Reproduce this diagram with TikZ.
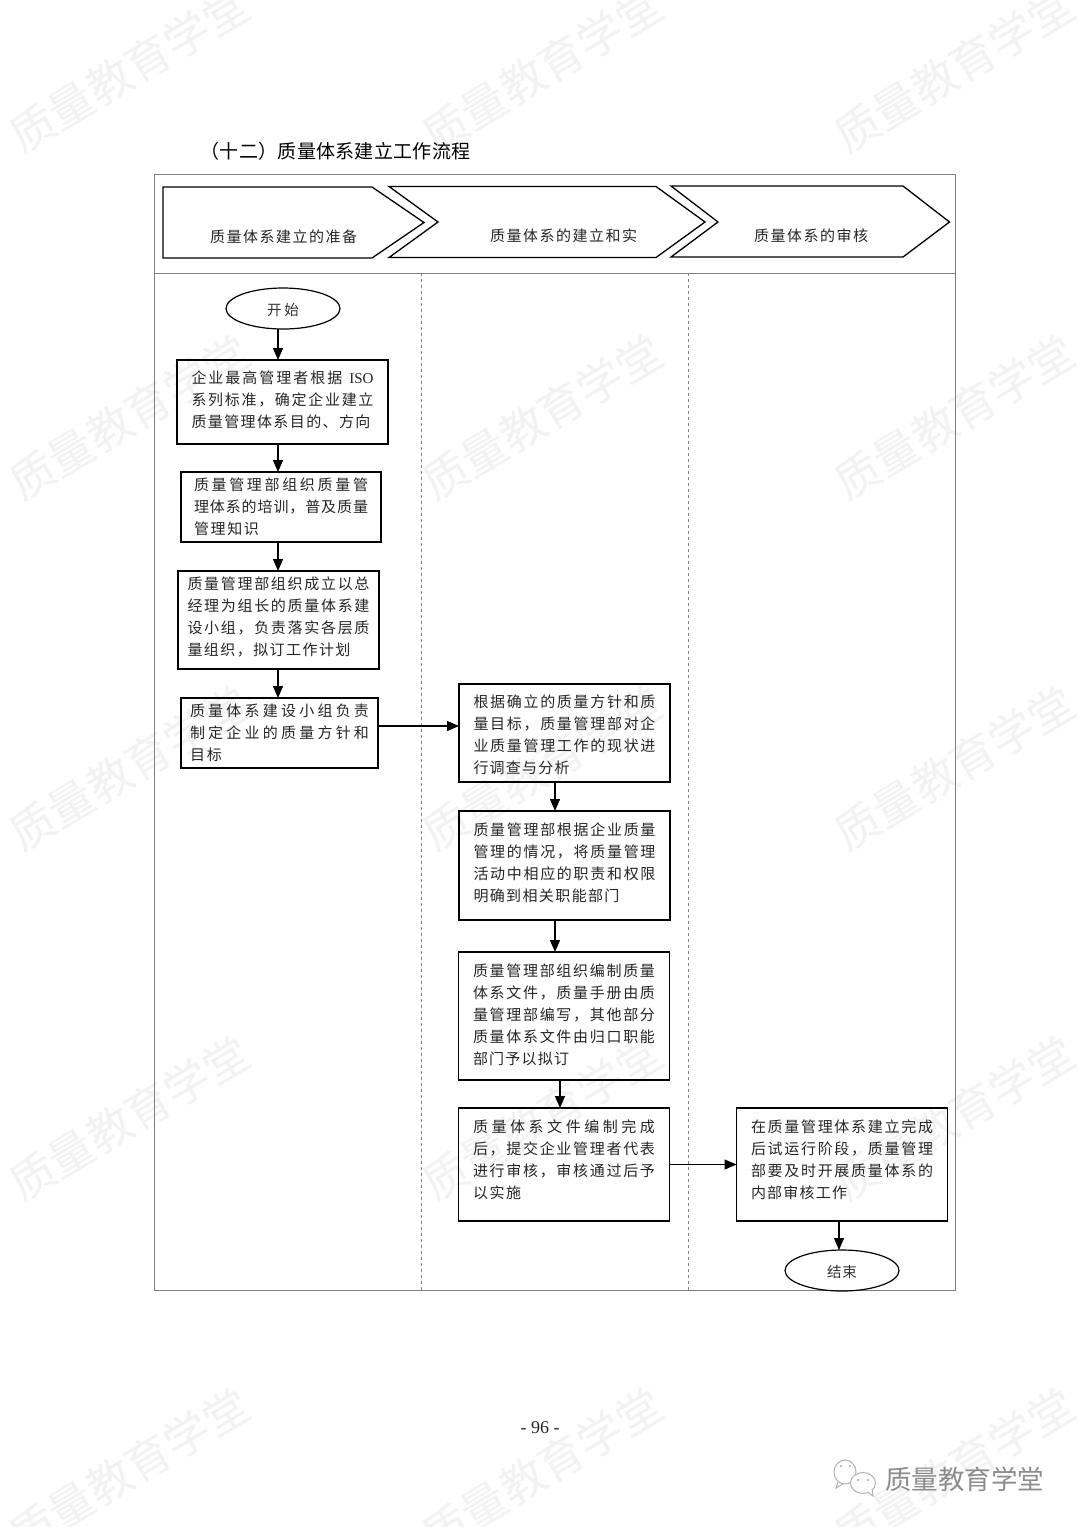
\documentclass[tikz,border=0pt]{standalone}
\usepackage{fontspec}
\setmainfont{Noto Sans CJK SC}
\newfontfamily\latinfont{Liberation Serif}
\usetikzlibrary{arrows.meta,positioning,shapes.geometric}

\def\spreadchars#1{\ifx#1\relax\unskip\else#1\hfil\expandafter\spreadchars\fi}
\newcommand\jl[2][\linewidth]{\makebox[#1][s]{\spreadchars#2\relax}}
\newcommand\pad[1]{\rule[-#1]{0pt}{#1}}
\newcommand\padtop[1]{\rule{0pt}{#1}}
\newcommand\isotext{\ {\latinfont ISO}}

\tikzset{
  flowbox/.style n args={3}{draw,line width=1.3pt,outer sep=0pt,inner sep=0pt,align=left,
    text width=#1,minimum width=#2,minimum height=#3,text=black!85,
    font=\fontsize{15}{22}\selectfont},
  terminal/.style={draw,ellipse,line width=1.2pt,outer sep=0pt,inner sep=0pt,minimum width=114pt,
    minimum height=41pt,text=black!80,font=\fontsize{14.5}{16}\selectfont},
  stage/.style={draw,line width=1.3pt,line join=miter},
  stagetext/.style={text=black!85,font=\fontsize{15}{16}\selectfont,inner sep=0pt},
  frameline/.style={draw=black!50,line width=1pt}
}

\begin{document}
\begin{tikzpicture}[x=1pt,y=-1pt,>={Stealth[length=12pt,width=10pt,inset=0pt]}]
   \useasboundingbox (0,0) rectangle (1080,1527);
   \fill[white] (0,0) rectangle (1080,1527);

   \foreach \wx in {129,542,954}
     \foreach \wy in {70,417,768,1118,1470}
       \node[rotate=31,text=black!5,font=\fontsize{45}{46}\selectfont] (wm\wx\wy) at (\wx,\wy) {质量教育学堂};

   \node[text=black,font=\fontsize{19}{20}\selectfont,inner sep=0pt] (title) at (335.5,151) {\jl[270pt]{（十二）质量体系建立工作流程}};

   \draw[frameline] (154,174) rectangle (955,1290);
   \draw[frameline] (154,273) -- (955,273);
   \draw[frameline,dashed,line width=.8pt] (421,273) -- (421,1290);
   \draw[frameline,dashed,line width=.8pt] (688,273) -- (688,1290);

   \draw[stage] (163,187) -- (372,187) -- (424,222.5) -- (372,258) -- (163,258) -- cycle;
   \draw[stage] (389,186.5) -- (656,186.5) -- (705,222) -- (656,257.5) -- (389,257.5) -- (438,222) -- cycle;
   \draw[stage] (671,186) -- (903,186) -- (949.5,222) -- (903,257) -- (671,257) -- (718,222) -- cycle;
   \node[stagetext] (prep)  at (283.5,237) {\jl[147pt]{质量体系建立的准备}};
   \node[stagetext] (build) at (563.5,236) {\jl[147pt]{质量体系的建立和实}};
   \node[stagetext] (audit) at (811,236)   {\jl[114pt]{质量体系的审核}};

   \coordinate (col1) at (278,0);
   \coordinate (col2) at (555,0);
   \coordinate (col3) at (560,0);
   \coordinate (col4) at (839,0);
   \coordinate (row1) at (0,726);

   \node[terminal]                    (start) at (283,308.5) {\raisebox{-7pt}[0pt][0pt]{\jl[32pt]{开始}}};
   \node[flowbox={182pt}{211pt}{84pt}] (box1) [below=31pt of start,xshift=-.5pt]
     {\jl{企业最高管理者根据\isotext}\\\jl{系列标准，确定企业建立}\\\jl[179pt]{质量管理体系目的、方向}\pad{6pt}};
   \node[flowbox={174pt}{200pt}{70pt}] (box2) [below=28pt of box1,xshift=-1.5pt]
     {\jl{质量管理部组织质量管}\\\jl{理体系的培训，普及质量}\\\jl[65pt]{管理知识}};
   \node[flowbox={182pt}{201pt}{98pt}] (box3) [below=29pt of box2,xshift=-2.5pt]
     {\jl{质量管理部组织成立以总}\\\jl{经理为组长的质量体系建}\\\jl{设小组，负责落实各层质}\\\jl[163pt]{量组织，拟订工作计划}\pad{8pt}};
   \node[flowbox={179pt}{197pt}{70pt}] (box4) [below=29pt of box3,xshift=1pt]
     {\padtop{13pt}\jl{质量体系建设小组负责}\\\jl{制定企业的质量方针和}\\\jl[32pt]{目标}};
   \node[flowbox={182pt}{211pt}{98pt}] (box5) [right=81pt of box4]
     {\padtop{17pt}\jl{根据确立的质量方针和质}\\\jl{量目标，质量管理部对企}\\\jl{业质量管理工作的现状进}\\\jl[96pt]{行调查与分析}};
   \node[flowbox={182pt}{211pt}{109pt}] (box6) [below=29pt of box5]
     {\jl{质量管理部根据企业质量}\\\jl{管理的情况，将质量管理}\\\jl{活动中相应的职责和权限}\\\jl[146pt]{明确到相关职能部门}\pad{7pt}};
   \node[flowbox={182pt}{211pt}{128pt}] (box7) [below=32pt of box6,xshift=-.5pt]
     {\jl{质量管理部组织编制质量}\\\jl{体系文件，质量手册由质}\\\jl{量管理部编写，其他部分}\\\jl{质量体系文件由归口职能}\\\jl[96pt]{部门予以拟订}\pad{4pt}};
   \node[flowbox={182pt}{211pt}{113pt}] (box8) [below=28pt of box7]
     {\jl{质量体系文件编制完成}\\\jl{后，提交企业管理者代表}\\\jl{进行审核，审核通过后予}\\\jl[48pt]{以实施}\pad{11pt}};
   \node[flowbox={182pt}{211pt}{113pt}] (box9) [right=67pt of box8]
     {\jl{在质量管理体系建立完成}\\\jl{后试运行阶段，质量管理}\\\jl{部要及时开展质量体系的}\\\jl[96pt]{内部审核工作}\pad{11pt}};
   \node[terminal]                    (end) [below=29pt of box9] {\raisebox{-7pt}[0pt][0pt]{\jl[30pt]{结束}}};

   \path[->,line width=1.3pt,black]
        (start.south -| col1) edge (box1.north -| col1)
        (box1.south -| col1)  edge (box2.north -| col1)
        (box2.south -| col1)  edge (box3.north -| col1)
        (box3.south -| col1)  edge (box4.north -| col1)
        (box4.east |- row1)   edge (box5.west |- row1)
        (box5.south -| col2)  edge (box6.north -| col2)
        (box6.south -| col2)  edge (box7.north -| col2)
        (box7.south -| col3)  edge (box8.north -| col3)
        (box8)                edge (box9)
        (box9.south -| col4)  edge (end.north -| col4);

   \node[text=black!85,font=\latinfont\fontsize{18}{18}\selectfont,inner sep=0pt] (page) at (540,1428) {- 96 -};

   \draw[black!30,line width=1pt,fill=white] (845,1472) ellipse (11pt and 12pt);
   \draw[black!30,line width=1pt] (838,1482) -- (836,1488) -- (843,1484);
   \draw[black!30,line width=1pt,fill=white] (863,1483) ellipse (12.5pt and 10.5pt);
   \draw[black!30,line width=1pt,fill=white] (868,1492) -- (873,1496) -- (872,1489);
   \fill[black!35] (841,1466) circle (1.2pt) (850,1466) circle (1.2pt) (858,1480) circle (1.2pt) (868,1480) circle (1.2pt);
   \node[text=black!45,font=\fontsize{26.5}{28}\selectfont,inner sep=0pt] (brand) at (964.5,1479) {质量教育学堂};
\end{tikzpicture}
\end{document}
